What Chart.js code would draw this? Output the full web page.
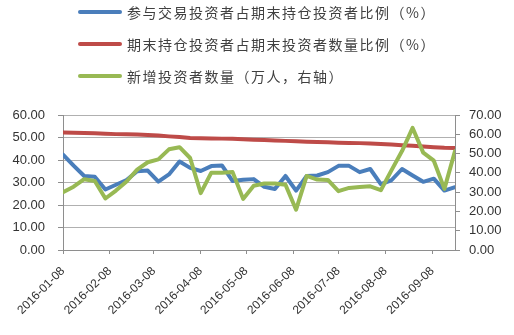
<!DOCTYPE html>
<html>
<head>
<meta charset="utf-8">
<script src="https://cdn.jsdelivr.net/npm/chart.js@4"></script>
<style>
  html, body { margin: 0; padding: 0; background: #fff; }
  #wrap { position: relative; width: 514px; height: 335px; overflow: hidden; }
  #legend-container { position: absolute; left: 78px; top: -4px; margin: 0; padding: 0; list-style: none; }
  #legend-container li { display: flex; align-items: center; height: 32px; }
  #legend-container .swatch { width: 44px; height: 4px; border-radius: 2px; margin-right: 5px; }
  #legend-container .txt { font: 14px "Noto Sans CJK SC", sans-serif; letter-spacing: 1.5px; color: #404040; white-space: nowrap; }
</style>
</head>
<body>
<div id="wrap">
  <ul id="legend-container"></ul>
  <canvas id="chart" width="514" height="335"></canvas>
</div>
<script>
// weekly dates (Fridays)
const WEEKS = [
  '2016-01-08', '2016-01-15', '2016-01-22', '2016-01-29',
  '2016-02-05', '2016-02-12', '2016-02-19', '2016-02-26',
  '2016-03-04', '2016-03-11', '2016-03-18', '2016-03-25',
  '2016-04-01', '2016-04-08', '2016-04-15', '2016-04-22', '2016-04-29',
  '2016-05-06', '2016-05-13', '2016-05-20', '2016-05-27',
  '2016-06-03', '2016-06-10', '2016-06-17', '2016-06-24',
  '2016-07-01', '2016-07-08', '2016-07-15', '2016-07-22', '2016-07-29',
  '2016-08-05', '2016-08-12', '2016-08-19', '2016-08-26',
  '2016-09-02', '2016-09-09', '2016-09-16', '2016-09-23',
];

const TICK_LABELS = [
  '2016-01-08', '2016-02-08', '2016-03-08', '2016-04-08', '2016-05-08',
  '2016-06-08', '2016-07-08', '2016-08-08', '2016-09-08',
];

// 参与交易投资者占期末持仓投资者比例（%）
const TRADING_RATIO = [
  42.4, 37.5, 32.9, 32.6, 26.9, 29.0, 31.1, 35.0, 35.3, 30.4,
  33.6, 39.3, 36.5, 35.1, 37.3, 37.6, 30.7, 31.2, 31.5, 28.1,
  27.1, 32.9, 26.4, 32.9, 33.1, 34.6, 37.4, 37.4, 34.6, 36.0,
  29.3, 31.0, 36.0, 33.1, 30.3, 31.7, 26.4, 27.9,
];

// 期末持仓投资者占期末投资者数量比例（%）
const HOLDING_RATIO = [
  52.2, 52.1, 52.0, 51.9, 51.7, 51.5, 51.4, 51.3, 51.1, 50.9,
  50.5, 50.2, 49.8, 49.7, 49.6, 49.5, 49.4, 49.2, 49.0, 48.9,
  48.7, 48.5, 48.3, 48.1, 48.0, 47.9, 47.7, 47.6, 47.5, 47.3,
  47.1, 46.9, 46.6, 46.3, 46.0, 45.7, 45.4, 45.3,
];

// 新增投资者数量（万人，右轴）
const NEW_INVESTORS = [
  30.0, 32.8, 36.7, 35.8, 26.7, 30.8, 35.5, 41.7, 45.5, 47.0,
  52.2, 53.3, 47.7, 29.5, 40.1, 40.1, 40.5, 26.5, 33.3, 34.5,
  34.5, 33.8, 20.9, 38.4, 36.5, 36.3, 30.5, 32.2, 32.7, 33.0,
  31.0, 41.3, 51.3, 63.3, 50.5, 46.3, 31.7, 51.3,
];

const DAY = 24 * 3600 * 1000;
const dayOf = (s) => (Date.parse(s) - Date.parse(WEEKS[0])) / DAY;
const toPoints = (vals) => vals.map((v, i) => ({ x: dayOf(WEEKS[i]), y: v }));

const htmlLegendPlugin = {
  id: 'htmlLegend',
  afterUpdate(chart) {
    const ul = document.getElementById('legend-container');
    ul.innerHTML = '';
    chart.data.datasets.forEach((ds) => {
      const li = document.createElement('li');
      const sw = document.createElement('span');
      sw.className = 'swatch';
      sw.style.background = ds.borderColor;
      const tx = document.createElement('span');
      tx.className = 'txt';
      tx.textContent = ds.label;
      li.appendChild(sw);
      li.appendChild(tx);
      ul.appendChild(li);
    });
  },
};

const FONT = { family: '"Liberation Sans", Arial, sans-serif', size: 13 };
const GRID = '#b0b0b0';
const AXIS = '#8e8e8e';

const data = {
  datasets: [
    {
      label: '参与交易投资者占期末持仓投资者比例（%）',
      data: toPoints(TRADING_RATIO),
      borderColor: '#4a7ebb',
      yAxisID: 'y',
      order: 2,
    },
    {
      label: '期末持仓投资者占期末投资者数量比例（%）',
      data: toPoints(HOLDING_RATIO),
      borderColor: '#be4b48',
      yAxisID: 'y',
      order: 1,
    },
    {
      label: '新增投资者数量（万人，右轴）',
      data: toPoints(NEW_INVESTORS),
      borderColor: '#98b954',
      yAxisID: 'y2',
      order: 0,
    },
  ],
};

new Chart(document.getElementById('chart'), {
  type: 'line',
  data,
  options: {
    responsive: false,
    animation: false,
    layout: { padding: { top: 115, right: 4, bottom: 0, left: 4 } },
    elements: {
      line: { borderWidth: 4, tension: 0, borderJoinStyle: 'round', borderCapStyle: 'round', fill: false },
      point: { radius: 0 },
    },
    plugins: {
      legend: { display: false },
      tooltip: { enabled: false },
    },
    scales: {
      x: {
        type: 'linear',
        min: 0,
        max: dayOf(WEEKS[WEEKS.length - 1]),
        afterBuildTicks: (axis) => {
          axis.ticks = TICK_LABELS.map((d) => ({ value: dayOf(d) }));
        },
        afterFit: (axis) => {
          axis.height = 85;
        },
        ticks: {
          autoSkip: false,
          minRotation: 45,
          maxRotation: 45,
          padding: 10,
          color: '#333',
          font: { family: FONT.family, size: 12 },
          callback: (v, i) => TICK_LABELS[i],
        },
        grid: { drawOnChartArea: false, drawTicks: true, tickLength: 4, color: AXIS },
        border: { display: true, color: AXIS },
      },
      y: {
        position: 'left',
        min: 0,
        max: 60,
        afterFit: (axis) => {
          axis.width = 59;
        },
        ticks: { stepSize: 10, padding: 13, color: '#333', font: FONT, callback: (v) => v.toFixed(2) },
        grid: { color: GRID, tickLength: 5, tickColor: AXIS },
        border: { display: true, color: AXIS },
      },
      y2: {
        position: 'right',
        min: 0,
        max: 70,
        afterFit: (axis) => {
          axis.width = 55;
        },
        ticks: { stepSize: 10, padding: 9, color: '#333', font: FONT, callback: (v) => v.toFixed(2) },
        grid: { drawOnChartArea: false, tickLength: 5, color: AXIS },
        border: { display: true, color: AXIS },
      },
    },
  },
  plugins: [htmlLegendPlugin],
});
</script>
</body>
</html>
